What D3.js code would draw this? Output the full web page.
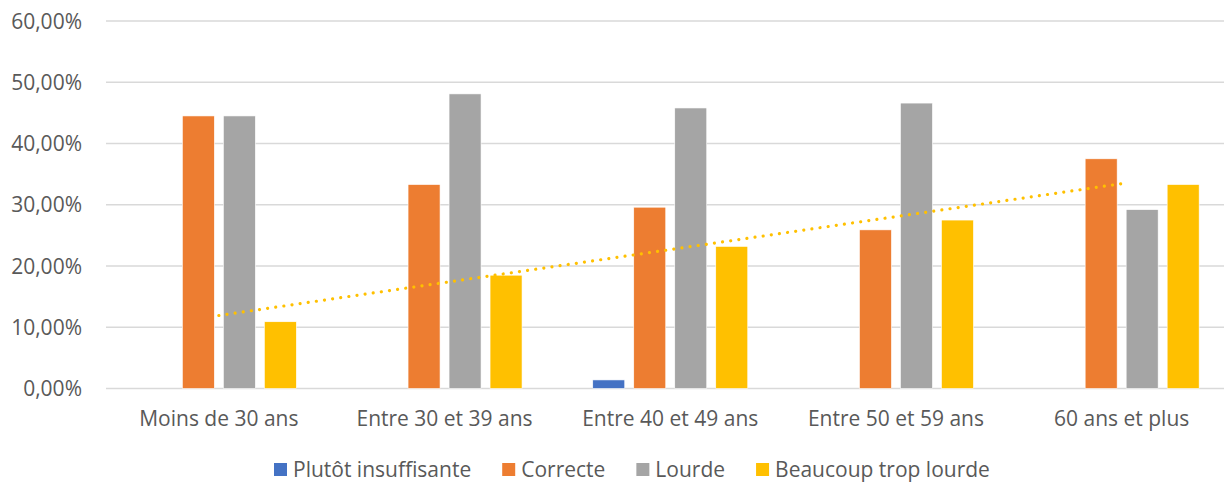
<!DOCTYPE html>
<html><head><meta charset="utf-8">
<script src="https://cdn.jsdelivr.net/npm/d3@7"></script>
<style>
html,body{margin:0;padding:0;background:#fff;}
svg{display:block;font-family:"Open Sans",sans-serif;}
</style></head>
<body><svg id="c" width="1224" height="483"></svg>
<script>
const categories = ["Moins de 30 ans","Entre 30 et 39 ans","Entre 40 et 49 ans","Entre 50 et 59 ans","60 ans et plus"];
const seriesNames = ["Plutôt insuffisante","Correcte","Lourde","Beaucoup trop lourde"];
const seriesColors = ["#4472C4","#ED7D31","#A5A5A5","#FFC000"];
const plutotInsuffisante = [0, 0, 0.014, 0, 0];
const correcte = [0.445, 0.333, 0.296, 0.259, 0.375];
const lourde = [0.445, 0.481, 0.458, 0.466, 0.292];
const beaucoupTropLourde = [0.109, 0.185, 0.232, 0.275, 0.333];
const yTicks = [0, 0.1, 0.2, 0.3, 0.4, 0.5, 0.6];

(function () {
const seriesValues = [plutotInsuffisante, correcte, lourde, beaucoupTropLourde];
const svg = d3.select("#c");
const fr = d3.formatLocale({decimal:",", thousands:" ", grouping:[3], currency:["","€"], percent:"%"});
const fmt = fr.format(".2%");
const fs = "21px";

const mLeft = 106, mRight = 1234.5, mTop = 21, mBottom = 388.5;
const x0 = d3.scaleBand().domain(categories).range([mLeft, mRight]).paddingInner(0).paddingOuter(0);
const gw = 155, off = (x0.bandwidth() - gw) / 2;
const x1 = d3.scaleBand().domain(seriesNames).range([off, off + gw]).paddingInner(9/41).paddingOuter(0);
const y = d3.scaleLinear().domain([0, 0.6]).range([mBottom, mTop]);

// gridlines
svg.append("g").selectAll("line").data(yTicks).join("line")
  .attr("x1", mLeft).attr("x2", 1224)
  .attr("y1", d => y(d)).attr("y2", d => y(d))
  .attr("stroke", "#D9D9D9").attr("stroke-width", 1.5);

// y tick labels
svg.append("g").selectAll("text").data(yTicks).join("text")
  .attr("x", 82).attr("y", d => y(d)).attr("dy", "0.36em")
  .attr("text-anchor", "end").attr("fill", "#595959").attr("font-size", fs)
  .text(d => fmt(d));

// bars
const bars = [];
categories.forEach((c, i) => seriesNames.forEach((s, j) => bars.push({c, s, j, v: seriesValues[j][i]})));
svg.append("g").selectAll("rect").data(bars.filter(d => d.v > 0)).join("rect")
  .attr("x", d => x0(d.c) + x1(d.s))
  .attr("width", x1.bandwidth())
  .attr("y", d => y(d.v))
  .attr("height", d => y(0) - y(d.v))
  .attr("fill", d => seriesColors[d.j])
  .attr("stroke", "#fff").attr("stroke-width", 0.6);

// category labels
svg.append("g").selectAll("text").data(categories).join("text")
  .attr("x", d => x0(d) + x0.bandwidth() / 2).attr("y", 426)
  .attr("text-anchor", "middle").attr("fill", "#595959").attr("font-size", fs)
  .text(d => d);

// linear trendline for "Beaucoup trop lourde"
const n = beaucoupTropLourde.length;
const xs = d3.range(1, n + 1);
const mx = d3.mean(xs), my = d3.mean(beaucoupTropLourde);
const slope = d3.sum(xs, (xv, i) => (xv - mx) * (beaucoupTropLourde[i] - my)) / d3.sum(xs, xv => (xv - mx) ** 2);
const icpt = my - slope * mx;
const trend = xs.map((xv, i) => ({c: categories[i], v: icpt + slope * xv}));
svg.append("path").datum(trend)
  .attr("d", d3.line().x(d => x0(d.c) + x0.bandwidth() / 2).y(d => y(d.v)))
  .attr("fill", "none").attr("stroke", "#FFC000").attr("stroke-width", 3.2)
  .attr("stroke-linecap", "round").attr("stroke-dasharray", "0.01 8.2");

// legend
const lg = svg.append("g");
let lx = 274;
seriesNames.forEach((s, j) => {
  lg.append("rect").attr("x", lx).attr("y", 463).attr("width", 13).attr("height", 13).attr("fill", seriesColors[j]);
  const t = lg.append("text").attr("x", lx + 19).attr("y", 477).attr("fill", "#595959").attr("font-size", fs).text(s);
  lx += 19 + t.node().getComputedTextLength() + 31;
});
})();
</script></body></html>
